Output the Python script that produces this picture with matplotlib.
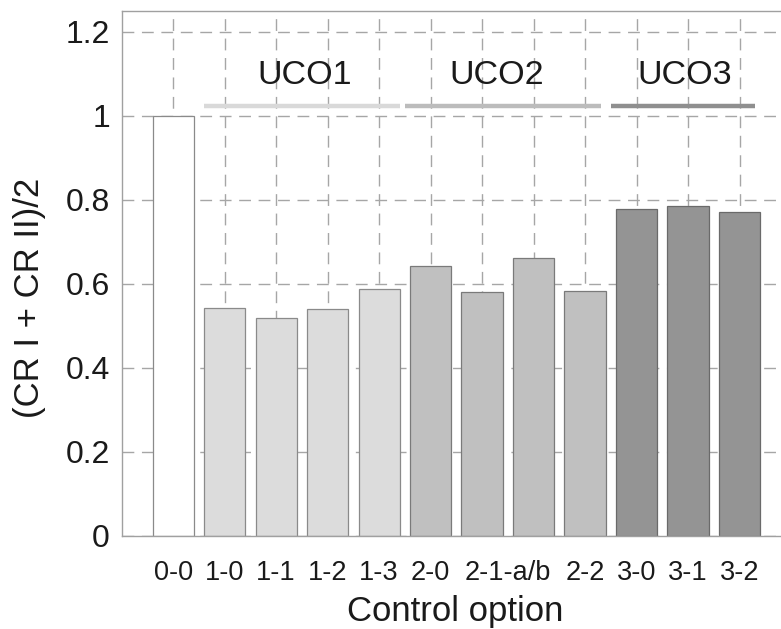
import matplotlib
matplotlib.use("Agg")
import matplotlib.pyplot as plt
from matplotlib.ticker import FixedLocator

plt.rcParams['font.family'] = ['Liberation Sans', 'DejaVu Sans']

# ---- data ----
bar_names = ['0-0', '1-0', '1-1', '1-2', '1-3', '2-0', '2-1-a', '2-1-b', '2-2', '3-0', '3-1', '3-2']
bar_values = [1.0, 0.541, 0.519, 0.540, 0.588, 0.642, 0.580, 0.660, 0.583, 0.777, 0.786, 0.770]
bar_groups = [0, 1, 1, 1, 1, 2, 2, 2, 2, 3, 3, 3]
tick_labels = ['0-0', '1-0', '1-1', '1-2', '1-3', '2-0', '2-1-a/b', '2-2', '3-0', '3-1', '3-2']
tick_pos = [1, 2, 3, 4, 5, 6, 7.5, 9, 10, 11, 12]
group_names = ['UCO1', 'UCO2', 'UCO3']
group_spans = [(1.6, 5.4), (5.5, 9.3), (9.5, 12.3)]
group_text_x = [3.56, 7.29, 10.93]
y_ticks = [0, 0.2, 0.4, 0.6, 0.8, 1.0, 1.2]
y_tick_labels = ['0', '0.2', '0.4', '0.6', '0.8', '1', '1.2']

group_colors = ['#ffffff', '#dcdcdc', '#c0c0c0', '#949494']
group_edges = ['#8a8a8a', '#8a8a8a', '#7a7a7a', '#6a6a6a']
line_colors = ['#d9d9d9', '#bcbcbc', '#8f8f8f']

W, H = 781, 629
fig = plt.figure(figsize=(W / 100, H / 100), dpi=100)
ax = fig.add_axes([121.7 / W, (H - 535.5) / H, (791 - 121.7) / W, (535.5 - 10.7) / H])

xs = list(range(1, len(bar_values) + 1))
ax.bar(xs, bar_values, width=0.8,
       color=[group_colors[g] for g in bar_groups],
       edgecolor=[group_edges[g] for g in bar_groups],
       linewidth=0.9, zorder=2)

ax.set_xlim(0, 13)
ax.set_ylim(0, 1.25)

# grid at each bar position, labels on minor ticks
ax.xaxis.remove_overlapping_locs = False
ax.xaxis.set_major_locator(FixedLocator(xs))
ax.set_xticklabels([''] * len(xs))
ax.xaxis.set_minor_locator(FixedLocator(tick_pos))
ax.set_xticklabels(tick_labels, minor=True)
ax.tick_params(axis='x', which='both', length=0)
ax.tick_params(axis='x', which='minor', labelsize=19.5, pad=17.5, labelcolor='#1a1a1a')

ax.set_yticks(y_ticks)
ax.set_yticklabels(y_tick_labels)
ax.tick_params(axis='y', length=0, labelsize=23, pad=8.5, labelcolor='#1a1a1a')

ax.set_axisbelow(True)
ax.grid(True, which='major', color='#a6a6a6', linestyle=(0, (8.5, 5.5)), linewidth=1.0)

for s in ax.spines.values():
    s.set_color('#a0a0a0')
    s.set_linewidth(1.0)

# group lines and labels
for name, (x0, x1), tx, lc in zip(group_names, group_spans, group_text_x, line_colors):
    ax.plot([x0, x1], [1.0226, 1.0226], color=lc, linewidth=3.2, solid_capstyle='butt', zorder=3)
    ax.text(tx, 1.0945, name, ha='center', va='center', fontsize=24.5, color='#1a1a1a', zorder=3)

fig.text(455 / W, 1 - 612 / H, 'Control option', ha='center', va='center', fontsize=25, color='#1a1a1a')
fig.text(30 / W, 1 - 297.5 / H, '(CR I + CR II)/2', ha='center', va='center', rotation=90,
         fontsize=25, color='#1a1a1a')

fig.savefig('out.png', dpi=100)
